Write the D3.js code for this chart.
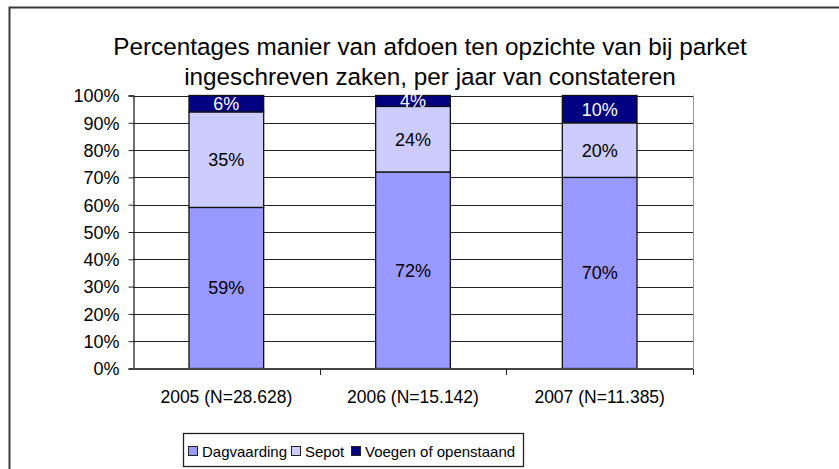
<!DOCTYPE html>
<html>
<head>
<meta charset="utf-8">
<script src="https://cdn.jsdelivr.net/npm/d3@7"></script>
<style>
  body { margin: 0; background: #fff; }
  text { font-family: "Liberation Sans", Arial, sans-serif; }
</style>
</head>
<body>
<div id="chart"></div>
<script>
// data
var categories = ["2005 (N=28.628)", "2006 (N=15.142)", "2007 (N=11.385)"]
var dagvaarding = [59, 72, 70]
var sepot = [35, 24, 20]
var voegen = [6, 4, 10]
var seriesNames = ["Dagvaarding", "Sepot", "Voegen of openstaand"]
var yTicks = [0, 10, 20, 30, 40, 50, 60, 70, 80, 90, 100]

var colors = ["#9999ff", "#ccccff", "#000080"]
var labelColors = ["#000", "#000", "#fff"]

var width = 839, height = 469
var margin = {left: 133, right: 146, top: 95.5, bottom: 100.5}

var svg = d3.select("#chart").append("svg")
  .attr("width", width)
  .attr("height", height)

// outer chart border (cut off at the right and bottom)
svg.append("rect")
  .attr("x", 9.5).attr("y", 7.5)
  .attr("width", 900).attr("height", 500)
  .attr("fill", "none")
  .attr("stroke", "#3a3a3a")
  .attr("stroke-width", 2)

// title
var title = svg.append("text")
  .attr("text-anchor", "middle")
  .style("font-size", "24.3px")
  .attr("fill", "#000")
title.append("tspan").attr("x", 430).attr("y", 55)
  .text("Percentages manier van afdoen ten opzichte van bij parket")
title.append("tspan").attr("x", 430).attr("y", 85)
  .text("ingeschreven zaken, per jaar van constateren")

// build a table for the stack
var table = categories.map(function(c, i) {
  return {cat: c, Dagvaarding: dagvaarding[i], Sepot: sepot[i], "Voegen of openstaand": voegen[i]}
})
var stacked = d3.stack().keys(seriesNames)(table)

var x = d3.scaleBand()
  .domain(categories)
  .range([margin.left, width - margin.right])
  .paddingInner(0.6)
  .paddingOuter(0.3)

var y = d3.scaleLinear()
  .domain([0, 100])
  .range([height - margin.bottom, margin.top])

var g = svg.append("g")

// gridlines
g.selectAll(".grid")
  .data(yTicks.slice(1))
  .enter()
  .append("line")
    .attr("x1", margin.left).attr("x2", width - margin.right)
    .attr("y1", function(d) { return Math.round(y(d)) + 0.5 })
    .attr("y2", function(d) { return Math.round(y(d)) + 0.5 })
    .attr("stroke", "#222")
    .attr("stroke-width", 1)

// right border of plot area
g.append("line")
  .attr("x1", width - margin.right + 0.5).attr("x2", width - margin.right + 0.5)
  .attr("y1", margin.top).attr("y2", height - margin.bottom)
  .attr("stroke", "#999")

// bars
var layer = g.selectAll(".layer")
  .data(stacked)
  .enter()
  .append("g")
    .attr("fill", function(d, i) { return colors[i] })

layer.selectAll("rect")
  .data(function(d) { return d })
  .enter()
  .append("rect")
    .attr("x", function(d) { return x(d.data.cat) })
    .attr("y", function(d) { return y(d[1]) })
    .attr("width", x.bandwidth())
    .attr("height", function(d) { return y(d[0]) - y(d[1]) })
    .attr("stroke", "#111")
    .attr("stroke-width", 1.3)

// segment labels
stacked.forEach(function(s, i) {
  g.selectAll(".lbl" + i)
    .data(s)
    .enter()
    .append("text")
      .attr("x", function(d) { return x(d.data.cat) + x.bandwidth() / 2 })
      .attr("y", function(d) { return (y(d[0]) + y(d[1])) / 2 + 6.5 })
      .attr("text-anchor", "middle")
      .style("font-size", "18px")
      .attr("fill", labelColors[i])
      .text(function(d) { return (d[1] - d[0]) + "%" })
})

// y axis
var yAxis = svg.append("g")
  .attr("transform", "translate(" + (margin.left + 0.5) + ",0)")
  .call(d3.axisLeft(y).tickValues(yTicks).tickFormat(function(d) { return d + "%" }).tickSize(5).tickPadding(9))
yAxis.select(".domain").attr("stroke", "#222").attr("stroke-width", 1.3)
yAxis.selectAll(".tick line").attr("stroke", "#222")
yAxis.selectAll("text").style("font-size", "18px").attr("fill", "#000").attr("dy", "0.35em")

// x axis
var xAxis = svg.append("g")
  .attr("transform", "translate(0," + (height - margin.bottom + 0.5) + ")")
  .call(d3.axisBottom(x).tickSize(0).tickPadding(22))
xAxis.select(".domain").attr("stroke", "#444").attr("stroke-width", 2)
  .attr("d", "M" + margin.left + ",0H" + (width - margin.right))
xAxis.selectAll("text").style("font-size", "17.5px").attr("fill", "#000")
// boundary ticks between categories
var bounds = d3.range(categories.length + 1).map(function(i) { return margin.left + i * (width - margin.left - margin.right) / categories.length })
xAxis.selectAll(".btick")
  .data(bounds.slice(1))
  .enter()
  .append("line")
    .attr("x1", function(d) { return Math.round(d) + 0.5 })
    .attr("x2", function(d) { return Math.round(d) + 0.5 })
    .attr("y1", 0).attr("y2", 6)
    .attr("stroke", "#222")

// legend
var legend = svg.append("g")
legend.append("rect")
  .attr("x", 183.5).attr("y", 433.5)
  .attr("width", 340).attr("height", 33)
  .attr("fill", "#fff")
  .attr("stroke", "#222")
  .attr("stroke-width", 1.3)

var legX = [188, 291, 351]
seriesNames.forEach(function(n, i) {
  legend.append("rect")
    .attr("x", legX[i] + 0.5).attr("y", 446.5)
    .attr("width", 9).attr("height", 9)
    .attr("fill", colors[i])
    .attr("stroke", "#222")
  legend.append("text")
    .attr("x", legX[i] + 14).attr("y", 457)
    .style("font-size", "15px")
    .attr("fill", "#000")
    .text(n)
})
</script>
</body>
</html>
